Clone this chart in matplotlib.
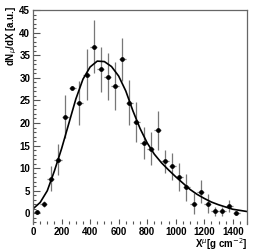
import numpy as np
import matplotlib
matplotlib.use('Agg')
import matplotlib.pyplot as plt
from matplotlib.ticker import MultipleLocator

# measured points (bin centres, 50 g/cm2 bins)
x_pts = np.arange(25, 1450, 50)
y_pts = [0.3, 2.1, 7.7, 11.9, 21.4, 27.8, 24.5, 30.7, 36.9, 31.9,
         30.2, 28.2, 34.1, 24.5, 20.2, 15.6, 14.3, 18.4, 11.5, 10.4,
         8.05, 5.8, 2.15, 4.8, 2.15, 0.44, 0.44, 1.7, 0.07]
y_err = [0.5, 0.6, 2.7, 3.5, 4.8, 0.3, 4.9, 5.6, 5.9, 5.0,
         5.2, 5.3, 4.8, 5.0, 4.5, 3.5, 3.6, 4.3, 2.6, 3.0,
         3.0, 3.0, 2.4, 2.5, 2.1, 1.0, 1.0, 1.3, 0.5]
x_err = 25

# fitted curve
x_fit = [0, 50, 100, 150, 200, 250, 300, 350, 400, 450, 500, 550, 600, 650, 700,
         750, 800, 850, 900, 950, 1000, 1050, 1100, 1150, 1200, 1250, 1300, 1350,
         1400, 1450, 1500]
y_fit = [1.0, 2.4, 5.0, 9.4, 14.3, 19.8, 25.3, 29.7, 32.4, 33.7, 33.6, 32.5, 30.4,
         27.1, 22.7, 18.8, 15.6, 13.1, 11.2, 9.6, 8.1, 6.7, 5.3, 4.2, 3.3, 2.5, 1.9,
         1.4, 0.9, 0.65, 0.4]

plt.rcParams['font.family'] = ['Liberation Sans', 'DejaVu Sans']

fig = plt.figure(figsize=(2.56, 2.52), dpi=100)
ax = fig.add_axes([0.129, 0.111, 0.836, 0.849])

ax.errorbar(x_pts, y_pts, yerr=y_err, xerr=x_err, fmt='o', color='black',
            ecolor='#777777', elinewidth=0.9, markersize=2.4, capsize=0)
ax.plot(x_fit, y_fit, color='black', lw=1.2)

ax.set_xlim(0, 1500)
ax.set_ylim(-2.37, 45)

ax.xaxis.set_major_locator(MultipleLocator(200))
ax.xaxis.set_minor_locator(MultipleLocator(50))
ax.yaxis.set_major_locator(MultipleLocator(5))
ax.yaxis.set_minor_locator(MultipleLocator(1))
ax.tick_params(which='both', direction='in', top=False, right=False,
               color='#555555', labelsize=7, width=0.8)
ax.tick_params(which='major', length=5, pad=2)
ax.tick_params(which='minor', length=2.5)
ax.tick_params(axis='x', which='both', length=3.5)
ax.tick_params(axis='x', which='minor', length=2.5)
for lab in ax.get_xticklabels() + ax.get_yticklabels():
    lab.set_fontweight('bold')

ax.spines['bottom'].set_visible(False)
for s in ['top', 'left', 'right']:
    ax.spines[s].set_color('#666666')
    ax.spines[s].set_linewidth(0.9)

ax.set_ylabel(r'dN$_{\mu}$/dX [a.u.]', fontsize=7, fontweight='bold', loc='top')
ax.yaxis.set_label_coords(-0.065, 1.02)
ax.set_xlabel(r'X$^{\mu}$[g cm$^{-2}$]', fontsize=7, fontweight='bold', loc='right')
ax.xaxis.set_label_coords(1.0, -0.055)
ax.xaxis.label.set_va('top')

fig.savefig('out.png', dpi=100)
